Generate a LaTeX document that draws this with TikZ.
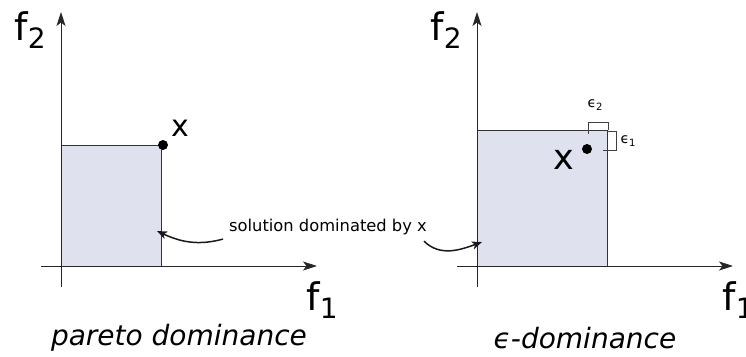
\documentclass[tikz,border=0pt]{standalone}
\usepackage{fontspec}
\setmainfont{DejaVu Sans}
\usetikzlibrary{arrows.meta,positioning,calc}
\definecolor{DomFill}{HTML}{DFE1EE}
\definecolor{DomLine}{HTML}{333333}

\newcommand{\fsub}[2]{{\fontsize{38}{38}\selectfont #1\raisebox{-0.22em}{\fontsize{28}{28}\selectfont #2}}}
\newcommand{\epsub}[1]{{\fontsize{14}{14}\selectfont ϵ\raisebox{-0.25em}{\fontsize{10}{10}\selectfont #1}}}

\begin{document}
\begin{tikzpicture}[x=1pt,y=-1pt,
  ax/.style={draw=black!85,line width=0.8pt,-{Stealth[length=14pt,width=9pt,inset=3.5pt]}},
  dombox/.style={draw=DomLine,line width=0.8pt,fill=DomFill},
  pt/.style={circle,fill=black,inner sep=0pt,minimum size=10pt},
  lbl/.style={inner sep=0pt,font=\fontsize{16.3}{16.3}\selectfont},
  captxt/.style={inner sep=0pt,font=\fontsize{28}{28}\selectfont\itshape},
  eps/.style={draw=black!75,line width=0.6pt},
  arr/.style={draw=black!90,line width=1.5pt,-{Stealth[length=10pt,width=8pt,inset=2.5pt]}}]
  \useasboundingbox (0,0) rectangle (746,356);
  % pareto dominance
  \draw[dombox] (61,145) rectangle (161,266);
  \coordinate (y1) at (61,12);
  \coordinate (x1) at (317,266);
  \draw[ax] (61,287) -- (y1);
  \draw[ax] (41,266) -- (x1);
  \node[pt] (p1) at (163,145) {};
  \node[inner sep=0pt,font=\fontsize{30}{30}\selectfont] (px1) at (180,128) {x};
  \node[inner sep=0pt] (f21) at (30,30) {\fsub{f}{2}};
  \node[inner sep=0pt] (f11) at (322,300) {\fsub{f}{1}};
  \node[captxt] (c1) at (179,338) {pareto dominance};
  % epsilon dominance
  \draw[dombox] (477,130) rectangle (607,266);
  \coordinate (y2) at (477,12);
  \coordinate (x2) at (733,266);
  \draw[ax] (477,287) -- (y2);
  \draw[ax] (457,266) -- (x2);
  \node[pt] (p2) at (587,149) {};
  \node[inner sep=0pt,font=\fontsize{35}{35}\selectfont] (px2) at (564,160) {x};
  \node[inner sep=0pt] (f22) at (446,30) {\fsub{f}{2}};
  \node[inner sep=0pt] (f12) at (738,300) {\fsub{f}{1}};
  \node[captxt] (c2) at (585,338) {ϵ-dominance};
  % epsilon brackets
  \draw[eps] (588,134) -- (588,122) -- (608,122) -- (608,130);
  \draw[eps] (608,131) -- (616,131) -- (616,150) -- (603,150);
  \node[inner sep=0pt] (e2) at (595,105) {\epsub{2}};
  \node[inner sep=0pt] (e1) at (628,141) {\epsub{1}};
  % dominated region label
  \node[lbl] (dom) at (328,227) {solution dominated by x};
  \coordinate (t1) at (157,231);
  \coordinate (t2) at (482,242);
  \draw[arr] ([xshift=-6pt,yshift=-4pt]dom.south west) to[out=195,in=-25] (t1);
  \draw[arr] ([xshift=-3pt,yshift=-6pt]dom.south east) to[out=-45,in=200] (t2);
\end{tikzpicture}
\end{document}
